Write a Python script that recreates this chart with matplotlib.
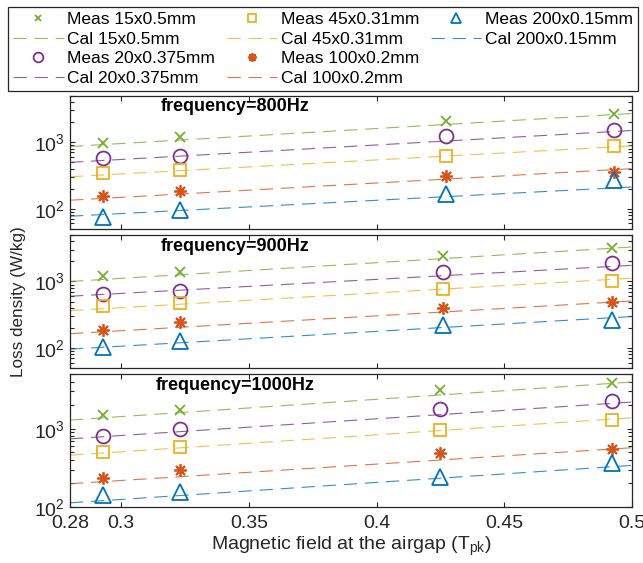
import numpy as np
import matplotlib.pyplot as plt
from matplotlib.lines import Line2D
from matplotlib.ticker import LogLocator, NullFormatter

plt.rcParams['font.family'] = ['Liberation Sans', 'DejaVu Sans']
plt.rcParams['mathtext.fontset'] = 'custom'
plt.rcParams['mathtext.rm'] = 'Liberation Sans'
plt.rcParams['mathtext.it'] = 'Liberation Sans:italic'
plt.rcParams['axes.linewidth'] = 0.9

freqs = [800, 900, 1000]
sizes = ['15x0.5mm', '20x0.375mm', '45x0.31mm', '100x0.2mm', '200x0.15mm']

# peak airgap field of each measurement (T)
b_meas = {
    800: [0.293, 0.323, 0.427, 0.493],
    900: [0.293, 0.323, 0.426, 0.492],
    1000: [0.293, 0.323, 0.425, 0.492],
}
# calculated curves are given at the axis ends
b_cal = [0.28, 0.5]

# measured loss density (W/kg), one list per lamination size
meas_800 = [[966, 1190, 2100, 2690],
            [573, 614, 1218, 1510],
            [339, 381, 621, 865],
            [156, 185, 312, 351],
            [75, 97, 165, 272]]
meas_900 = [[1200, 1400, 2400, 3150],
            [646, 714, 1400, 1875],
            [421, 482, 782, 1010],
            [188, 245, 398, 499],
            [103, 129, 222, 268]]
meas_1000 = [[1510, 1750, 3150, 3850],
             [815, 990, 1780, 2250],
             [508, 583, 970, 1300],
             [235, 294, 489, 550],
             [142, 154, 242, 360]]

# calculated loss density at b_cal
cal_800 = [[860, 2700], [497, 1500], [302, 880], [134, 400], [77, 212]]
cal_900 = [[1000, 3300], [600, 1750], [365, 1120], [164, 509], [96, 297]]
cal_1000 = [[1290, 3950], [742, 2190], [459, 1380], [198, 572], [113, 340]]

meas = {800: meas_800, 900: meas_900, 1000: meas_1000}
cal = {800: cal_800, 900: cal_900, 1000: cal_1000}
ylims = {800: (50, 5000), 900: (50, 5000), 1000: (100, 5000)}

colors = ['#77AC30', '#7E2F8E', '#EDB120', '#D95319', '#0072BD']
markers = ['x', 'o', 's', (8, 2, 0), '^']
msizes = [7, 10, 8, 9, 11]

fig = plt.figure(figsize=(6.43, 5.63), dpi=100)
left = 70 / 643
width = 562 / 643
bottoms = [1 - 228.7 / 563, 1 - 368 / 563, 1 - 507 / 563]
height = 133 / 563

handles = {}
axes = []
for i, f in enumerate(freqs):
    ax = fig.add_axes([left, bottoms[i], width, height])
    axes.append(ax)
    for k in range(5):
        hm, = ax.plot(b_meas[f], meas[f][k], linestyle='none', marker=markers[k],
                      markersize=msizes[k], markerfacecolor='none',
                      markeredgecolor=colors[k], markeredgewidth=1.3)
        hc, = ax.plot(b_cal, cal[f][k], color=colors[k], linewidth=0.8,
                      alpha=0.8, dashes=(12, 7))
        handles[k] = (hm, hc)
    ax.set_yscale('log')
    ax.set_xlim(0.28, 0.5)
    ax.set_ylim(*ylims[f])
    ax.set_xticks([0.28, 0.3, 0.35, 0.4, 0.45, 0.5])
    ax.yaxis.set_major_locator(LogLocator(base=10))
    ax.yaxis.set_minor_locator(LogLocator(base=10, subs=np.arange(2, 10)))
    ax.yaxis.set_minor_formatter(NullFormatter())
    ax.tick_params(which='both', direction='in', top=True, right=True,
                   labelsize=14, colors='#262626', width=0.8)
    ax.tick_params(which='major', length=3.5)
    ax.tick_params(which='minor', length=2.8)
    ax.tick_params(axis='x', pad=6)
    for s in ax.spines.values():
        s.set_color('#262626')
    if i < 2:
        ax.set_xticklabels([])
    ax.text(0.294, 0.917, 'frequency=%dHz' % f, transform=ax.transAxes,
            ha='center', va='center', fontsize=13, fontweight='bold')

axes[2].set_xticklabels(['0.28', '0.3', '0.35', '0.4', '0.45', '0.5'])
axes[2].set_xlabel('Magnetic field at the airgap (T$_{\\rm pk}$)', fontsize=14,
                   color='#262626', labelpad=2)
fig.text(18.5 / 643, 1 - 302 / 563, 'Loss density (W/kg)', rotation=90,
         ha='center', va='center', fontsize=12.3, color='#262626')

# legend entries run down the columns: meas, cal, meas, cal ...
leg_handles = []
leg_labels = []
for k in range(5):
    leg_handles += [handles[k][0], handles[k][1]]
    leg_labels += ['Meas ' + sizes[k], 'Cal ' + sizes[k]]
# two empty slots so the last column holds only the 200x0.15mm pair
for _ in range(2):
    leg_handles.append(Line2D([], [], linestyle='none'))
    leg_labels.append('')

leg = fig.legend(leg_handles, leg_labels, ncol=3, loc='upper left',
                 bbox_to_anchor=(8 / 643, 1 - 94 / 563, 630 / 643, 87 / 563),
                 mode='expand', borderaxespad=0, fontsize=12.5, markerscale=0.7,
                 handlelength=2.9, handletextpad=0.2, labelspacing=0.25,
                 columnspacing=0.6, fancybox=False, edgecolor='#262626',
                 framealpha=1, borderpad=0.3)
leg.get_frame().set_linewidth(0.9)

fig.savefig('out.png', dpi=100)
